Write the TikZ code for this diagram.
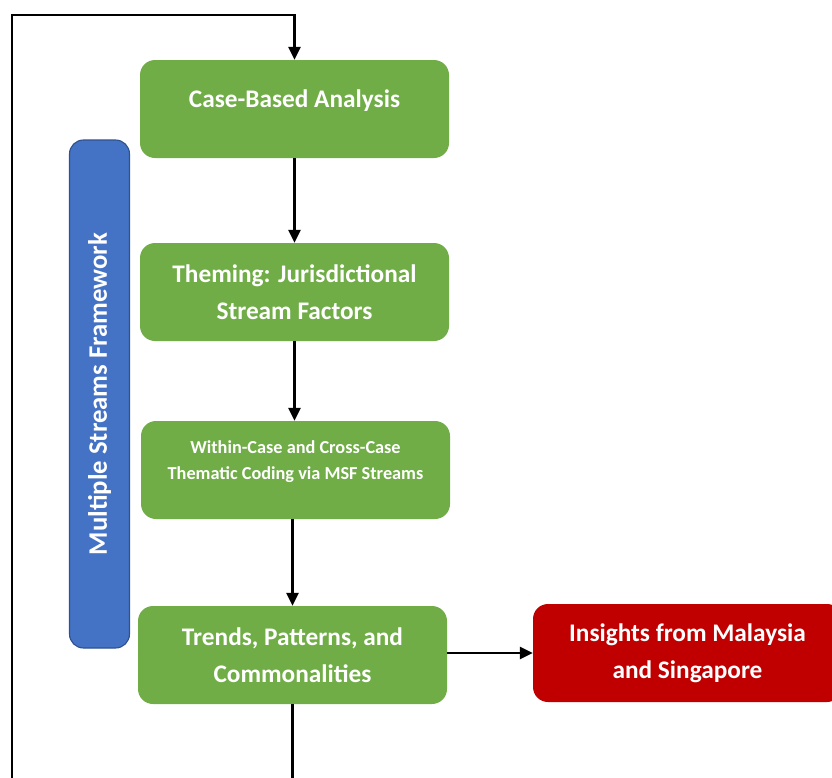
\documentclass[tikz,border=0pt]{standalone}
\usepackage{fontspec}
\setmainfont{Carlito}
\usetikzlibrary{arrows.meta}
\usetikzlibrary{positioning}
\definecolor{boxgreen}{HTML}{70AD47}
\definecolor{boxblue}{HTML}{4472C4}
\definecolor{boxblueline}{HTML}{2F528F}
\definecolor{boxred}{HTML}{C00000}
\tikzset{->/.style = {-{Triangle[length=0.32cm,width=0.3cm]}}}
\tikzset{stage/.style = {fill=boxgreen, rounded corners=0.375cm, minimum width=7.725cm, minimum height=2.45cm, align=center, text=white, font=\fontsize{18}{26.3}\selectfont\bfseries}}
\tikzset{outcome/.style = {stage, fill=boxred}}
\tikzset{frame/.style = {fill=boxblue, draw=boxblueline, line width=0.8pt, rounded corners=0.35cm, minimum width=1.5cm, minimum height=12.7cm}}
\tikzset{flow/.style = {line width=1.7pt}}

\begin{document}
\begin{tikzpicture}
        \clip (0,0) rectangle (20.8,-19.45);
        \node [stage, text depth=0.5cm] (case) at (7.3625,-2.725) {Case-Based Analysis};
        \node [stage] (theming) at (7.3625,-7.3) {Theming: Jurisdictional\\Stream Factors};
        \node [stage, text depth=0.5cm, font=\fontsize{13}{18.5}\selectfont\bfseries] (coding) at (7.3875,-11.75) {Within-Case and Cross-Case\\Thematic Coding via MSF Streams};
        \node [stage] (trends) at (7.3125,-16.375) {Trends, Patterns, and\\Commonalities};
        \node [outcome] (insights) at (17.1875,-16.325) {Insights from Malaysia\\and Singapore};
        \node [frame] (msf) at (2.4875,-9.85) {};
        \node [rotate=90, text=white, font=\fontsize{19}{22}\selectfont\bfseries] (msflabel) at (msf.center) {Multiple Streams Framework};
        \coordinate (loopbottom) at (0.3,-19.45);
        \coordinate (looptop) at (0.3,-0.375);
        \coordinate (exit) at (trends.south |- loopbottom);
        \draw [flow,->] (case.south) -- (theming.north);
        \draw [flow,->] (theming.south) -- (coding.north -| theming.south);
        \draw [flow,->] (coding.south -| trends.north) -- (trends.north);
        \draw [flow,->] (trends.east |- insights.west) -- (insights.west);
        \draw [flow] (trends.south) -- (exit);
        \draw [flow,->] (loopbottom) -- (looptop) -| (case.north);
    \end{tikzpicture}
\end{document}
